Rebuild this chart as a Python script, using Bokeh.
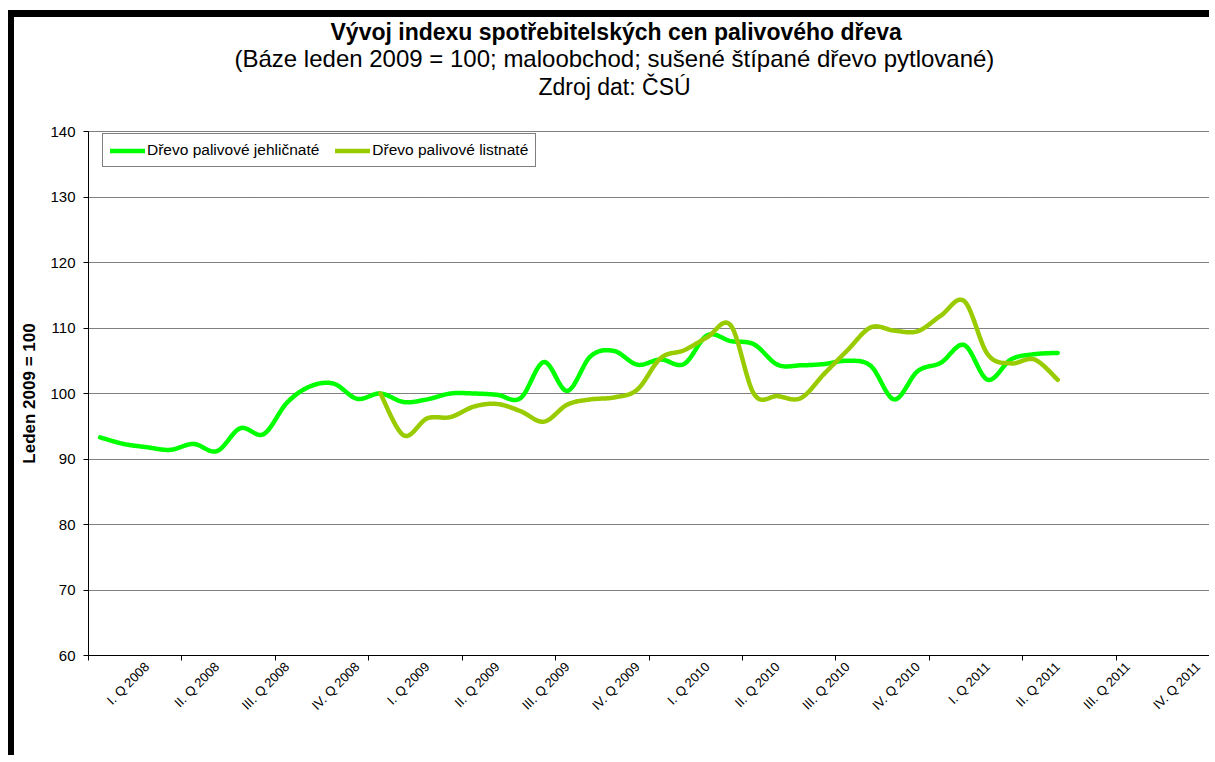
import numpy as np
from bokeh.plotting import figure
from bokeh.models import Range1d, FixedTicker, Title, Legend, LegendItem, ColumnDataSource
from bokeh.embed import file_html
from bokeh.resources import INLINE

# ---- data (monthly index, Jan 2008 = 0) ----
quarter_labels = ["I. Q 2008", "II. Q 2008", "III. Q 2008", "IV. Q 2008",
                  "I. Q 2009", "II. Q 2009", "III. Q 2009", "IV. Q 2009",
                  "I. Q 2010", "II. Q 2010", "III. Q 2010", "IV. Q 2010",
                  "I. Q 2011", "II. Q 2011", "III. Q 2011", "IV. Q 2011"]
months_jehl = list(range(0, 42))
jehlicnate = [93.3, 92.3, 91.8, 91.4, 92.3, 91.2, 94.7, 93.8, 98.6, 101.1,
              101.5, 99.2, 100.0, 98.7, 99.1, 100.0, 100.0, 99.8, 99.3, 104.8,
              100.4, 105.7, 106.5, 104.4, 105.2, 104.5, 108.9, 108.0, 107.5, 104.4,
              104.3, 104.5, 105.0, 104.2, 99.1, 103.4, 104.7, 107.4, 102.1, 105.2,
              106.0, 106.2]
months_list = list(range(12, 42))
listnate = [100.0, 93.6, 96.2, 96.4, 98.0, 98.4, 97.3, 95.7, 98.3, 99.1,
            99.4, 100.6, 105.4, 106.6, 108.6, 110.4, 99.9, 99.6, 99.3, 103.0,
            106.6, 110.1, 109.6, 109.5, 111.9, 114.1, 106.0, 104.6, 105.2, 102.1]
y_ticks = [60, 70, 80, 90, 100, 110, 120, 130, 140]

FONT = "Liberation Sans"


def smooth(xs, ys, n=20):
    """Excel-like smoothed line: cubic Bezier through the points (Catmull-Rom)."""
    x = np.asarray(xs, float)
    y = np.asarray(ys, float)
    px = np.concatenate([[x[0]], x, [x[-1]]])
    py = np.concatenate([[y[0]], y, [y[-1]]])
    outx, outy = [], []
    t = np.linspace(0, 1, n, endpoint=False)
    for i in range(1, len(px) - 2):
        p0x, p1x, p2x, p3x = px[i - 1], px[i], px[i + 1], px[i + 2]
        p0y, p1y, p2y, p3y = py[i - 1], py[i], py[i + 1], py[i + 2]
        c1x, c1y = p1x + (p2x - p0x) / 6, p1y + (p2y - p0y) / 6
        c2x, c2y = p2x - (p3x - p1x) / 6, p2y - (p3y - p1y) / 6
        a = (1 - t) ** 3
        b = 3 * (1 - t) ** 2 * t
        c = 3 * (1 - t) * t ** 2
        d = t ** 3
        outx.extend(a * p1x + b * c1x + c * c2x + d * p2x)
        outy.extend(a * p1y + b * c1y + c * c2y + d * p2y)
    outx.append(x[-1])
    outy.append(y[-1])
    return outx, outy


p = figure(width=1201, height=745,
           x_range=Range1d(-0.5, 47.5), y_range=Range1d(60, 140),
           output_backend="svg", toolbar_location=None,
           min_border_left=74, min_border_right=6,
           min_border_top=114, min_border_bottom=107)
p.styles = {"border-top": "7px solid black", "border-left": "6px solid black",
            "margin-top": "10px", "margin-left": "8px"}
p.background_fill_color = "white"
p.border_fill_color = "white"
p.outline_line_color = "#808080"
p.outline_line_width = 1

# titles (added from the plot outward); the first one is only blank space
spacer = Title(text=" ", text_font=FONT, text_font_size="10px", standoff=19)
t3 = Title(text="Zdroj dat: ČSÚ", align="left", offset=450, text_font=FONT,
           text_font_size="23px", text_font_style="normal", text_color="black",
           standoff=0)
t2 = Title(text="(Báze leden 2009 = 100; maloobchod; sušené štípané dřevo pytlované)",
           align="left", offset=146, text_font=FONT, text_font_size="24px",
           text_font_style="normal", text_color="black", standoff=0)
t1 = Title(text="Vývoj indexu spotřebitelských cen palivového dřeva", align="left",
           offset=242, text_font=FONT, text_font_size="23px",
           text_font_style="bold", text_color="black", standoff=-4)
p.add_layout(spacer, "above")
p.add_layout(t3, "above")
p.add_layout(t2, "above")
p.add_layout(t1, "above")

# y axis
p.yaxis.ticker = FixedTicker(ticks=y_ticks, minor_ticks=[])
p.yaxis.axis_label = "Leden 2009 = 100"
p.yaxis.axis_label_text_font = FONT
p.yaxis.axis_label_text_font_size = "17px"
p.yaxis.axis_label_text_font_style = "bold"
p.yaxis.axis_label_text_color = "black"
p.yaxis.axis_label_standoff = 8
p.yaxis.major_label_text_font = FONT
p.yaxis.major_label_text_font_size = "15px"
p.yaxis.major_label_text_color = "black"
p.yaxis.major_label_standoff = 8
p.yaxis.major_tick_out = 5
p.yaxis.major_tick_in = 0
p.yaxis.axis_line_color = "black"
p.yaxis.major_tick_line_color = "black"

# x axis: labels every quarter, tick marks every 4 months
label_pos = [2 + 3 * k for k in range(len(quarter_labels))]
tick_pos = [-0.5 + 4 * k for k in range(13)]
p.xaxis.ticker = FixedTicker(ticks=label_pos, minor_ticks=tick_pos)
p.xaxis.major_label_overrides = {pos: lab for pos, lab in zip(label_pos, quarter_labels)}
p.xaxis.major_label_orientation = np.pi / 4
p.xaxis.major_label_text_font = FONT
p.xaxis.major_label_text_font_size = "13px"
p.xaxis.major_label_text_color = "black"
p.xaxis.major_tick_out = 0
p.xaxis.major_tick_in = 0
p.xaxis.minor_tick_out = 5
p.xaxis.minor_tick_in = 0
p.xaxis.minor_tick_line_color = "black"
p.xaxis.axis_line_color = "black"
p.xaxis.major_label_standoff = 4

# grid
p.xgrid.visible = False
p.ygrid.ticker = FixedTicker(ticks=y_ticks[1:-1])
p.ygrid.grid_line_color = "black"
p.ygrid.grid_line_dash = "1 1"
p.ygrid.grid_line_width = 1
p.ygrid.grid_line_alpha = 1.0

# lines
jx, jy = smooth(months_jehl, jehlicnate)
lx, ly = smooth(months_list, listnate)
src_j = ColumnDataSource(dict(x=jx, y=jy))
src_l = ColumnDataSource(dict(x=lx, y=ly))
r1 = p.line("x", "y", source=src_j, line_color="#00FF00", line_width=4.5,
            line_join="round", line_cap="round")
r2 = p.line("x", "y", source=src_l, line_color="#99CC00", line_width=4.5,
            line_join="round", line_cap="round")

legend = Legend(items=[LegendItem(label="Dřevo palivové jehličnaté", renderers=[r1]),
                       LegendItem(label="Dřevo palivové listnaté", renderers=[r2])],
                orientation="horizontal", location=(14, 488),
                border_line_color="black", border_line_width=1,
                label_text_font=FONT, label_text_font_size="15.5px",
                label_text_color="black",
                glyph_width=35, glyph_height=15, label_height=15, label_standoff=2,
                spacing=16, padding=7, margin=0,
                background_fill_color="white", background_fill_alpha=1)
p.add_layout(legend, "center")

open("out.html", "w").write(file_html(p, INLINE))
